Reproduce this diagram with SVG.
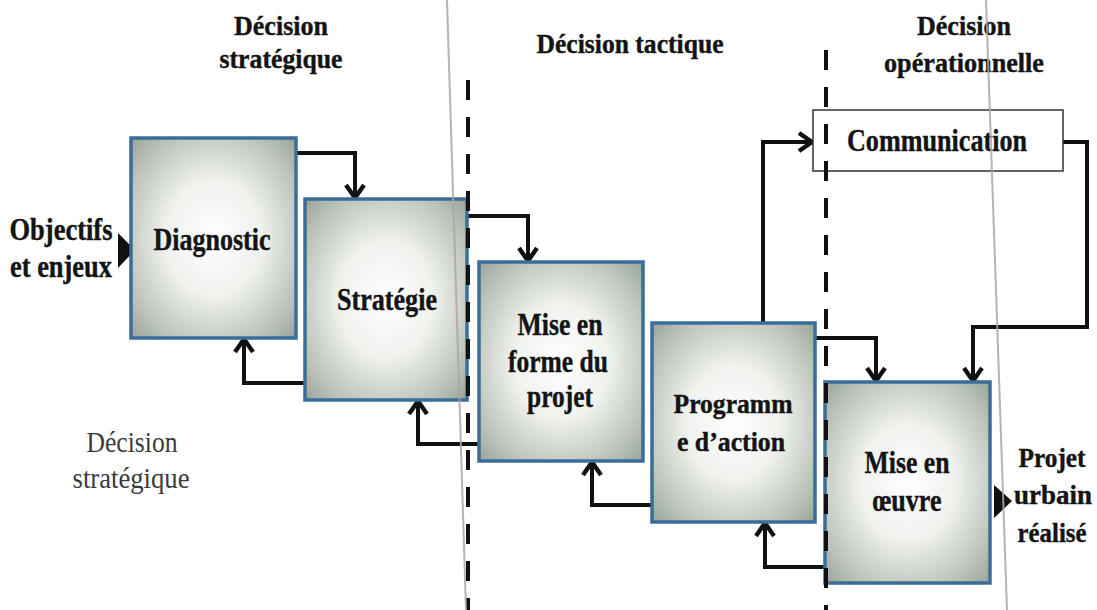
<svg xmlns="http://www.w3.org/2000/svg" width="1097" height="610" viewBox="0 0 1097 610">
  <defs>
    <radialGradient id="boxFill" cx="50%" cy="50%" r="72%">
      <stop offset="0" stop-color="#ffffff"/>
      <stop offset="0.4" stop-color="#f0f2ee"/>
      <stop offset="0.8" stop-color="#b7c0b6"/>
      <stop offset="1" stop-color="#939f95"/>
    </radialGradient>
    <marker id="chevron" markerUnits="userSpaceOnUse" markerWidth="20" markerHeight="24" viewBox="0 0 20 24" refX="17" refY="12" orient="auto">
      <path d="M3,3 L16,12 L3,21" fill="none" stroke="#111" stroke-width="4.4" stroke-linecap="butt" stroke-linejoin="miter"/>
    </marker>
    <style>
      .box { fill: url(#boxFill); stroke: #3b6d99; stroke-width: 3.5; }
      .plain { fill: #ffffff; stroke: #333; stroke-width: 1.5; }
      .lbl { font-family: "Liberation Serif", "Times New Roman", serif; font-weight: bold; fill: #141414; stroke: #141414; stroke-width: 0.4; text-anchor: middle; }
      .head { font-family: "Liberation Serif", "Times New Roman", serif; font-weight: bold; fill: #141414; stroke: #141414; stroke-width: 0.4; text-anchor: middle; font-size: 28px; }
      .note { font-family: "Liberation Serif", "Times New Roman", serif; fill: #3a3a3a; text-anchor: middle; font-size: 29px; }
      .link { fill: none; stroke: #111; stroke-width: 4; stroke-linejoin: miter; marker-end: url(#chevron); }
      .phase { stroke: #111; stroke-width: 4; stroke-dasharray: 20 17; }
      .edge { stroke: #b3a4a4; stroke-width: 2; opacity: 0.85; }
    </style>
  </defs>

  <rect width="1097" height="610" fill="#ffffff"/>

  <!-- phase headers -->
  <g id="headers">
    <text class="head" x="281" y="35" textLength="94" lengthAdjust="spacingAndGlyphs">Décision</text>
    <text class="head" x="281" y="68" textLength="123" lengthAdjust="spacingAndGlyphs">stratégique</text>
    <text class="head" x="630" y="53" textLength="187" lengthAdjust="spacingAndGlyphs">Décision tactique</text>
    <text class="head" x="964" y="35" textLength="94" lengthAdjust="spacingAndGlyphs">Décision</text>
    <text class="head" x="964" y="72" textLength="160" lengthAdjust="spacingAndGlyphs">opérationnelle</text>
  </g>

  <g id="note-strategique">
    <text class="note" x="132" y="452" textLength="91" lengthAdjust="spacingAndGlyphs">Décision</text>
    <text class="note" x="131" y="488" textLength="117" lengthAdjust="spacingAndGlyphs">stratégique</text>
  </g>

  <!-- input -->
  <g id="input">
    <text class="lbl" x="61" y="240" font-size="31" textLength="103" lengthAdjust="spacingAndGlyphs">Objectifs</text>
    <text class="lbl" x="61" y="277" font-size="31" textLength="102" lengthAdjust="spacingAndGlyphs">et enjeux</text>
    <polygon points="118,233 135,250 118,268" fill="#111"/>
  </g>

  <!-- connectors -->
  <g id="connectors">
    <path class="link" d="M296,153 H355 V199"/>
    <path class="link" d="M467,216 H528 V262"/>
    <path class="link" d="M763,323 V142 H813"/>
    <path class="link" d="M1063,142 H1087 V327 H973 V382"/>
    <path class="link" d="M815,338 H876 V382"/>
    <path class="link" d="M825,567 H765 V522"/>
    <path class="link" d="M652,505 H592 V461"/>
    <path class="link" d="M479,444 H418 V400"/>
    <path class="link" d="M305,383 H244 V338"/>
  </g>

  <g id="diagnostic">
    <rect class="box" x="131" y="138" width="165" height="200"/>
    <text class="lbl" x="212" y="250" font-size="31" textLength="117" lengthAdjust="spacingAndGlyphs">Diagnostic</text>
  </g>

  <g id="strategie">
    <rect class="box" x="305" y="199" width="162" height="201"/>
    <text class="lbl" x="387" y="310" font-size="31" textLength="100" lengthAdjust="spacingAndGlyphs">Stratégie</text>
  </g>

  <g id="mise-en-forme">
    <rect class="box" x="479" y="262" width="164" height="199"/>
    <text class="lbl" x="560" y="335" font-size="31" textLength="85" lengthAdjust="spacingAndGlyphs">Mise en</text>
    <text class="lbl" x="558" y="372" font-size="31" textLength="100" lengthAdjust="spacingAndGlyphs">forme du</text>
    <text class="lbl" x="560" y="407" font-size="31" textLength="66" lengthAdjust="spacingAndGlyphs">projet</text>
  </g>

  <g id="programme">
    <rect class="box" x="652" y="323" width="163" height="199"/>
    <text class="lbl" x="733" y="413" font-size="27" textLength="119" lengthAdjust="spacingAndGlyphs">Programm</text>
    <text class="lbl" x="731" y="451" font-size="27" textLength="108" lengthAdjust="spacingAndGlyphs">e d’action</text>
  </g>

  <g id="mise-en-oeuvre">
    <rect class="box" x="825" y="382" width="165" height="201"/>
    <text class="lbl" x="907" y="473" font-size="31" textLength="85" lengthAdjust="spacingAndGlyphs">Mise en</text>
    <text class="lbl" x="907" y="511" font-size="31" textLength="69" lengthAdjust="spacingAndGlyphs">œuvre</text>
  </g>

  <g id="communication">
    <rect class="plain" x="813" y="110" width="250" height="61"/>
    <text class="lbl" x="937" y="151" font-size="32" textLength="180" lengthAdjust="spacingAndGlyphs">Communication</text>
  </g>

  <!-- output -->
  <g id="output">
    <polygon points="994,485 1012,501 994,518" fill="#111"/>
    <text class="lbl" x="1052" y="467" font-size="28" textLength="67" lengthAdjust="spacingAndGlyphs">Projet</text>
    <text class="lbl" x="1053" y="504" font-size="28" textLength="78" lengthAdjust="spacingAndGlyphs">urbain</text>
    <text class="lbl" x="1052" y="542" font-size="28" textLength="69" lengthAdjust="spacingAndGlyphs">réalisé</text>
  </g>

  <!-- phase separators -->
  <g id="separators">
    <line class="phase" x1="468" y1="80" x2="468" y2="610"/>
    <line class="phase" x1="826" y1="50" x2="826" y2="610"/>
  </g>

  <!-- thin page edges -->
  <g id="page-edges">
    <line class="edge" x1="447" y1="0" x2="466" y2="610"/>
    <line class="edge" x1="986" y1="0" x2="1007" y2="610"/>
  </g>
</svg>
